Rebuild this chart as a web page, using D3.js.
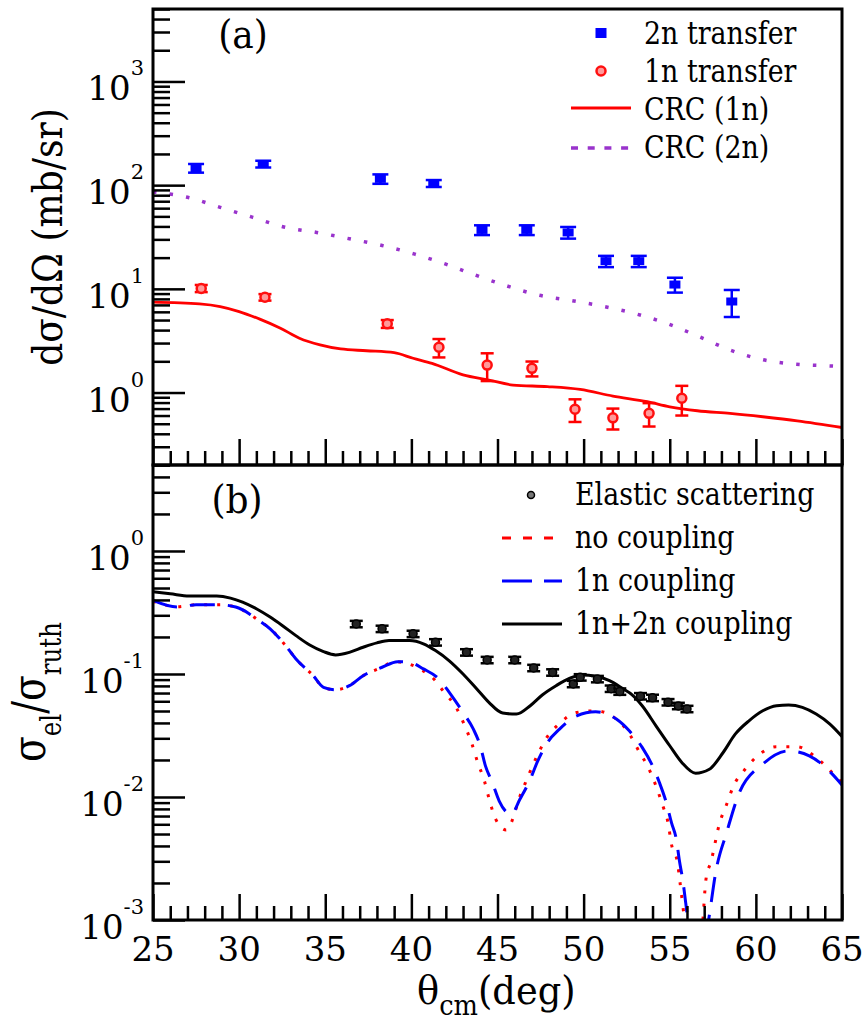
<!DOCTYPE html>
<html>
<head>
<meta charset="utf-8">
<script src="https://cdn.jsdelivr.net/npm/d3@7"></script>
<style>
body { margin: 0; background: #fff; }
svg { display: block; }
</style>
</head>
<body>
<svg width="864" height="1023"></svg>
<script>
(function(d3) {
    "use strict";

var FONT = "DejaVu Serif, Liberation Serif, Noto Serif, Times, serif";

// ---- data ----
var xTickValues = [25, 30, 35, 40, 45, 50, 55, 60, 65];

// (a) transfer cross sections, mb/sr
var twoNAngle = [27.5, 31.4, 38.2, 41.3, 44.1, 46.7, 49.1, 51.3, 53.2, 55.3, 58.6];
var twoNValue = [146, 160, 115, 104, 37, 37, 35, 18.5, 18.5, 11.0, 7.55];
var twoNError = [14, 12, 12, 8, 4, 4, 4.5, 2.3, 2.3, 1.8, 2.2];

var oneNAngle = [27.8, 31.5, 38.6, 41.6, 44.4, 47.0, 49.5, 51.7, 53.8, 55.7];
var oneNValue = [10.1, 8.3, 4.6, 2.73, 1.84, 1.71, 0.69, 0.57, 0.63, 0.88];
var oneNError = [0.8, 0.6, 0.4, 0.55, 0.55, 0.28, 0.17, 0.13, 0.16, 0.28];

var crc1nAngle = [25, 27.7, 28.9, 30.0, 31.2, 32.4, 33.5, 34.7, 35.9, 37.4, 39.0, 40.1, 41.2, 43.0, 44.5, 45.9, 47.9, 49.8, 51.7, 53.7, 55.0, 56.6, 58.5, 60.4, 62.4, 65];
var crc1nValue = [7.45, 7.16, 6.75, 6.04, 5.10, 4.17, 3.34, 2.88, 2.63, 2.53, 2.42, 2.14, 1.91, 1.48, 1.32, 1.18, 1.14, 1.07, 0.925, 0.815, 0.729, 0.667, 0.629, 0.584, 0.534, 0.46];

var crc2nAngle = [25, 27.1, 28.9, 30.8, 32.6, 34.5, 36.4, 38.3, 40.2, 42.0, 43.7, 45.6, 47.4, 49.3, 51.2, 53.1, 54.9, 56.7, 58.5, 60.3, 62.2, 64.2, 65];
var crc2nValue = [86, 75.7, 61.1, 48.9, 39.5, 35.0, 30.4, 26.2, 21.6, 17.3, 13.6, 10.6, 8.69, 7.71, 6.75, 5.70, 4.59, 3.46, 2.57, 2.09, 1.88, 1.81, 1.78];

// (b) elastic scattering, ratio to Rutherford
var elasticAngle = [36.8, 38.3, 40.1, 41.4, 43.2, 44.4, 46.0, 47.1, 48.2, 49.4, 49.8, 50.8, 51.6, 52.1, 53.3, 54.0, 54.9, 55.5, 56.0];
var elasticValue = [0.255, 0.233, 0.212, 0.181, 0.150, 0.130, 0.130, 0.112, 0.103, 0.083, 0.094, 0.091, 0.076, 0.072, 0.066, 0.064, 0.059, 0.055, 0.052];

var noCoupAngle = [25, 26.4, 27.5, 28.9, 29.8, 30.6, 31.0, 31.8, 32.7, 33.3, 34.3, 34.9, 35.6, 36.4, 37.2, 38.3, 39.0, 41.2, 41.9, 42.6, 43.1, 43.5, 43.85, 44.24, 44.53, 44.88, 45.5, 46.4, 47.3, 47.8, 48.6, 49.6, 50.7, 51.9, 52.7, 53.2, 53.8, 54.2, 54.6, 54.9, 55.1, 55.45, 55.6, 55.9, 56.4, 56.9, 57.1, 57.4, 57.9, 58.3, 58.7, 59.3, 60.1, 61.2, 62.4, 63.5, 64.8, 65];
var noCoupValue = [0.39, 0.352, 0.365, 0.365, 0.35, 0.308, 0.281, 0.233, 0.17, 0.1325, 0.0969, 0.0779, 0.0745, 0.0803, 0.0969, 0.1134, 0.126, 0.094, 0.071, 0.0535, 0.0379, 0.0274, 0.0191, 0.0135, 0.00946, 0.00667, 0.0054, 0.011, 0.0216, 0.0295, 0.0396, 0.0487, 0.0502, 0.043, 0.0318, 0.0237, 0.0168, 0.0123, 0.00845, 0.00618, 0.00412, 0.00292, 0.002, 0.0009, 0.0003, 0.0009, 0.00213, 0.003, 0.00618, 0.0087, 0.0123, 0.0163, 0.0216, 0.0256, 0.0256, 0.0209, 0.0139, 0.013];

var oneNCoupAngle = [25, 26.4, 27.5, 28.9, 29.8, 30.6, 31.0, 31.8, 32.7, 33.3, 34.3, 34.9, 35.6, 36.4, 37.2, 38.3, 39.2, 39.9, 40.7, 41.6, 42.2, 43.0, 43.6, 44.0, 44.3, 44.7, 45.1, 45.8, 46.3, 46.9, 47.3, 47.9, 48.6, 49.6, 50.7, 51.9, 52.65, 53.4, 54.0, 54.4, 54.8, 55.1, 55.4, 55.55, 55.75, 56.1, 56.6, 57.2, 57.7, 58.3, 59.0, 60.4, 61.9, 63.1, 64.8, 65];
var oneNCoupValue = [0.396, 0.35, 0.365, 0.365, 0.35, 0.308, 0.281, 0.233, 0.17, 0.1325, 0.0969, 0.0779, 0.0745, 0.0803, 0.0969, 0.1134, 0.126, 0.1245, 0.11, 0.091, 0.071, 0.0487, 0.0356, 0.026, 0.0179, 0.0131, 0.00927, 0.00723, 0.00957, 0.0139, 0.0191, 0.0277, 0.0356, 0.0457, 0.0493, 0.043, 0.0345, 0.0253, 0.0179, 0.0131, 0.009, 0.00618, 0.00438, 0.0031, 0.00213, 0.0009, 0.0004, 0.0009, 0.00258, 0.00513, 0.0105, 0.0185, 0.0237, 0.0216, 0.0135, 0.0125];

var fullCoupAngle = [25, 26.0, 27.1, 28.7, 29.5, 30.2, 31.0, 31.8, 32.5, 33.3, 34.1, 34.9, 35.6, 36.4, 37.2, 38.0, 38.7, 39.9, 40.7, 41.4, 42.2, 43.0, 43.8, 44.5, 45.3, 46.1, 46.9, 47.6, 48.4, 49.2, 49.9, 50.7, 51.5, 52.3, 52.8, 53.4, 54.2, 55.0, 55.7, 56.5, 57.3, 58.1, 58.8, 59.6, 60.4, 61.2, 61.9, 62.7, 63.5, 64.3, 65];
var fullCoupValue = [0.467, 0.449, 0.43, 0.43, 0.414, 0.384, 0.339, 0.29, 0.248, 0.205, 0.172, 0.152, 0.143, 0.15, 0.165, 0.179, 0.187, 0.187, 0.176, 0.155, 0.128, 0.1, 0.0755, 0.0588, 0.0481, 0.0472, 0.0552, 0.0675, 0.0803, 0.0923, 0.0982, 0.0958, 0.0882, 0.0755, 0.068, 0.0552, 0.0379, 0.0261, 0.0191, 0.0156, 0.0168, 0.023, 0.0324, 0.0416, 0.0502, 0.0552, 0.0559, 0.0535, 0.0472, 0.0391, 0.031];

var legendA = ["2n transfer", "1n transfer", "CRC (1n)", "CRC (2n)"];
var legendB = ["Elastic scattering", "no coupling", "1n coupling", "1n+2n coupling"];

// ---- layout ----
var svg = d3.select("svg"),
    left = 153, right = 842, top = 9, mid = 465, bottom = 920,
    x = d3.scaleLinear().domain([25, 65]).range([left, right]),
    yA = d3.scaleLog().domain([0.2, 5000]).range([mid, top]),
    yB = d3.scaleLog().domain([0.001, 5]).range([bottom, mid]),
    defs = svg.append("defs");

function zip(a, b) {
    return a.map(function(v, i) { return [v, b[i]]; });
}

function isMajor(v) {
    var l = Math.log10(v);
    return Math.abs(l - Math.round(l)) < 1e-9;
}

// text placed at (px,py), squeezed horizontally to get closer to the narrow Times look
function label(parent, px, py, size, sx, rot) {
    return parent.append("text")
        .attr("transform", "translate(" + px + "," + py + ")" + (rot ? " rotate(-90)" : "") +
            " scale(" + sx + ",1)")
        .attr("font-family", FONT).attr("font-size", size).attr("fill", "#000");
}

defs.append("clipPath").attr("id", "clipA").append("rect")
    .attr("x", left).attr("y", top).attr("width", right - left).attr("height", mid - top);
defs.append("clipPath").attr("id", "clipB").append("rect")
    .attr("x", left).attr("y", mid).attr("width", right - left).attr("height", bottom - mid);

function styleAxis(g) {
    g.select(".domain").remove();
    g.selectAll(".tick text").remove();
    g.selectAll("line").attr("stroke", "#000").attr("stroke-width", 2.5);
}

function yAxis(y) {
    var all = y.ticks();
    svg.append("g").attr("transform", "translate(" + left + ",0)")
        .call(d3.axisLeft(y).tickValues(all.filter(function(v) { return !isMajor(v); }))
            .tickSize(-17).tickFormat(""))
        .call(styleAxis);
    svg.append("g").attr("transform", "translate(" + left + ",0)")
        .call(d3.axisLeft(y).tickValues(all.filter(isMajor)).tickSize(-32).tickFormat(""))
        .call(styleAxis);
    all.filter(isMajor).forEach(function(v) {
        var t = label(svg, 144, y(v) + 19, 34, 1).attr("text-anchor", "end");
        t.append("tspan").text("10");
        t.append("tspan").attr("dy", -25).attr("font-size", 21)
            .text(String(Math.round(Math.log10(v))));
    });
}

function xAxis(yPos, labels) {
    var minor = d3.range(25, 66).filter(function(v) { return v % 5 !== 0; });
    svg.append("g").attr("transform", "translate(0," + yPos + ")")
        .call(d3.axisBottom(x).tickValues(minor).tickSize(-14).tickFormat(""))
        .call(styleAxis);
    svg.append("g").attr("transform", "translate(0," + yPos + ")")
        .call(d3.axisBottom(x).tickValues(xTickValues).tickSize(-26).tickFormat(""))
        .call(styleAxis);
    if (labels) {
        xTickValues.forEach(function(v) {
            label(svg, x(v), yPos + 41, 34, 1).attr("text-anchor", "middle").text(v);
        });
    }
}

// ---- panel (a) ----
var lineA = d3.line()
    .x(function(d) { return x(d[0]); })
    .y(function(d) { return yA(d[1]); })
    .curve(d3.curveMonotoneX);

var gA = svg.append("g").attr("clip-path", "url(#clipA)");

gA.append("path")
    .attr("d", lineA(zip(crc2nAngle, crc2nValue)))
    .attr("fill", "none").attr("stroke", "#9933cc")
    .attr("stroke-width", 3.5).attr("stroke-dasharray", "3.5,13.2");

gA.append("path")
    .attr("d", lineA(zip(crc1nAngle, crc1nValue)))
    .attr("fill", "none").attr("stroke", "#ff0000").attr("stroke-width", 2.8);

function errorBars(g, y, ang, val, err, color, cap) {
    var pts = g.selectAll(null).data(ang.map(function(a, i) {
        return {a: a, v: val[i], e: err[i]};
    })).enter().append("g");
    pts.append("line")
        .attr("x1", function(d) { return x(d.a); }).attr("x2", function(d) { return x(d.a); })
        .attr("y1", function(d) { return y(d.v + d.e); })
        .attr("y2", function(d) { return y(Math.max(d.v - d.e, 1e-6)); });
    [1, -1].forEach(function(s) {
        pts.append("line")
            .attr("x1", function(d) { return x(d.a) - cap / 2; })
            .attr("x2", function(d) { return x(d.a) + cap / 2; })
            .attr("y1", function(d) { return y(d.v + s * d.e); })
            .attr("y2", function(d) { return y(d.v + s * d.e); });
    });
    pts.selectAll("line").attr("stroke", color).attr("stroke-width", 2.5);
    return pts;
}

errorBars(gA, yA, twoNAngle, twoNValue, twoNError, "#0000ff", 16)
    .append("rect")
    .attr("x", function(d) { return x(d.a) - 5.5; })
    .attr("y", function(d) { return yA(d.v) - 4; })
    .attr("width", 11).attr("height", 8).attr("fill", "#0000ff");

errorBars(gA, yA, oneNAngle, oneNValue, oneNError, "#ff0000", 13)
    .append("circle")
    .attr("cx", function(d) { return x(d.a); })
    .attr("cy", function(d) { return yA(d.v); })
    .attr("r", 4.5).attr("fill", "#ff9a9a").attr("stroke", "#ff1010").attr("stroke-width", 2.5);

// ---- panel (b) ----
var lineB = d3.line()
    .x(function(d) { return x(d[0]); })
    .y(function(d) { return yB(d[1]); })
    .curve(d3.curveMonotoneX);

var gB = svg.append("g").attr("clip-path", "url(#clipB)");

gB.append("path")
    .attr("d", lineB(zip(noCoupAngle, noCoupValue)))
    .attr("fill", "none").attr("stroke", "#ff0000")
    .attr("stroke-width", 3).attr("stroke-dasharray", "3,10");

gB.append("path")
    .attr("d", lineB(zip(oneNCoupAngle, oneNCoupValue)))
    .attr("fill", "none").attr("stroke", "#0000ff")
    .attr("stroke-width", 3).attr("stroke-dasharray", "25,13");

gB.append("path")
    .attr("d", lineB(zip(fullCoupAngle, fullCoupValue)))
    .attr("fill", "none").attr("stroke", "#000").attr("stroke-width", 3);

errorBars(gB, yB, elasticAngle, elasticValue,
        elasticValue.map(function(v) { return v * 0.06; }), "#000", 13)
    .append("circle")
    .attr("cx", function(d) { return x(d.a); })
    .attr("cy", function(d) { return yB(d.v); })
    .attr("r", 4).attr("fill", "#222").attr("stroke", "#000").attr("stroke-width", 1.5);

// ---- axes and frames ----
yAxis(yA);
yAxis(yB);
xAxis(mid, false);
xAxis(bottom, true);

[[top, mid], [mid, bottom]].forEach(function(p) {
    svg.append("rect")
        .attr("x", left).attr("y", p[0])
        .attr("width", right - left).attr("height", p[1] - p[0])
        .attr("fill", "none").attr("stroke", "#000").attr("stroke-width", 3);
});

// ---- titles ----
label(svg, 62, 237, 41, 0.88, true)
    .attr("text-anchor", "middle")
    .text("dσ/dΩ (mb/sr)");

var tb = label(svg, 45, 692, 46, 0.82, true).attr("text-anchor", "middle");
tb.append("tspan").text("σ");
tb.append("tspan").attr("dy", 16).attr("font-size", 30).text("el");
tb.append("tspan").attr("dy", -16).text("/σ");
tb.append("tspan").attr("dy", 16).attr("font-size", 30).text("ruth");

var tx = label(svg, 417, 1004, 40, 0.92);
tx.append("tspan").text("θ");
tx.append("tspan").attr("dy", 11).attr("font-size", 28).text("cm");
tx.append("tspan").attr("dy", -11).text("(deg)");

label(svg, 243, 48, 40, 0.9).attr("text-anchor", "middle").text("(a)");
label(svg, 237, 513, 40, 0.9).attr("text-anchor", "middle").text("(b)");

// ---- legend (a) ----
var legA = svg.append("g");
legendA.forEach(function(name, i) {
    label(legA, 644, 33 + i * 38 + 11, 32, 0.84).text(name);
});
legA.append("rect").attr("x", 595.5).attr("y", 28).attr("width", 11).attr("height", 10)
    .attr("fill", "#0000ff");
legA.append("circle").attr("cx", 601).attr("cy", 71).attr("r", 4.5)
    .attr("fill", "#ff9a9a").attr("stroke", "#ff1010").attr("stroke-width", 2.5);
legA.append("line").attr("x1", 571).attr("x2", 631).attr("y1", 108).attr("y2", 108)
    .attr("stroke", "#ff0000").attr("stroke-width", 2.8);
legA.append("line").attr("x1", 571).attr("x2", 631).attr("y1", 148).attr("y2", 148)
    .attr("stroke", "#9933cc").attr("stroke-width", 3.5).attr("stroke-dasharray", "7,9.7");

// ---- legend (b) ----
var legB = svg.append("g");
legendB.forEach(function(name, i) {
    label(legB, 575, 495 + i * 43 + 10, 32, 0.84).text(name);
});
legB.append("circle").attr("cx", 531).attr("cy", 495).attr("r", 3.5)
    .attr("fill", "#777").attr("stroke", "#000").attr("stroke-width", 1.5);
legB.append("line").attr("x1", 502).attr("x2", 562).attr("y1", 538).attr("y2", 538)
    .attr("stroke", "#ff0000").attr("stroke-width", 3).attr("stroke-dasharray", "9,12");
legB.append("line").attr("x1", 502).attr("x2", 562).attr("y1", 581).attr("y2", 581)
    .attr("stroke", "#0000ff").attr("stroke-width", 3).attr("stroke-dasharray", "30,12");
legB.append("line").attr("x1", 502).attr("x2", 562).attr("y1", 624).attr("y2", 624)
    .attr("stroke", "#000").attr("stroke-width", 3);

}(d3));
</script>
</body>
</html>
